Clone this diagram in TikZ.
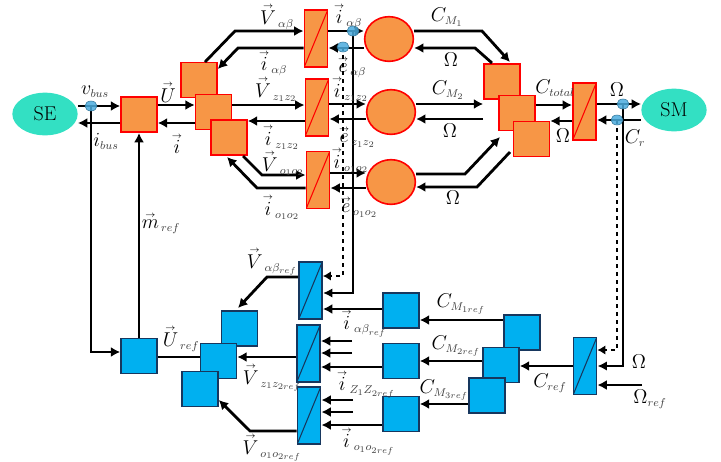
\RequirePackage{fix-cm}
\documentclass[tikz,border=0pt]{standalone}
\usepackage{amsmath}
\usepackage{amssymb}
\usepackage{tikz}
\usetikzlibrary{shapes.geometric,arrows.meta}

\DeclareMathSizes{15}{15}{8.5}{6.5}

\definecolor{orangefill}{HTML}{F79646}
\definecolor{bluefill}{HTML}{00B0F0}
\definecolor{blueline}{HTML}{17375E}
\definecolor{sourcefill}{HTML}{33E0C3}
\definecolor{tapfill}{HTML}{4BACDE}
\definecolor{subgray}{HTML}{404040}

\newcommand{\arr}[1]{\overset{\raisebox{-2.5pt}{$\scriptscriptstyle\rightarrow$}}{#1}}
\newcommand{\vlbl}[2]{$\arr{#1}_{\,\textcolor{subgray}{#2}}$}
\newcommand{\slbl}[2]{$#1_{\textcolor{subgray}{#2}}$}

\tikzset{
	boxorange/.style={draw=red,line width=1.2pt,fill=orangefill,minimum width=27pt,minimum height=26.5pt,inner sep=0pt},
	boxblue/.style={draw=blueline,line width=1.2pt,fill=bluefill,minimum width=27pt,minimum height=26.5pt,inner sep=0pt},
	convorange/.style={boxorange,minimum width=17.5pt,minimum height=42.5pt,
		path picture={\draw[red,line width=.8pt] (path picture bounding box.south west) -- (path picture bounding box.north east);}},
	convblue/.style={boxblue,minimum width=17.5pt,minimum height=42.5pt,
		path picture={\draw[blueline,line width=.8pt] (path picture bounding box.south west) -- (path picture bounding box.north east);}},
	machine/.style={ellipse,draw=red,line width=1.2pt,fill=orangefill,minimum width=36.5pt,minimum height=33.5pt,inner sep=0pt},
	source/.style={ellipse,fill=sourcefill,minimum width=49pt,minimum height=32pt,inner sep=0pt,font=\fontsize{15}{15}\selectfont},
	tapdot/.style={ellipse,draw=tapfill!70!black,line width=.4pt,fill=tapfill,fill opacity=.85,minimum width=9pt,minimum height=7.5pt,inner sep=0pt},
	conn/.style={line width=2.1pt,-{Latex[length=7pt,width=7.5pt]}},
	wire/.style={line width=2.1pt},
	lbl/.style={inner sep=0pt,font=\fontsize{15}{15}\selectfont},
}

\begin{document}
\begin{tikzpicture}[x=.75pt,y=-.75pt]
	\useasboundingbox (0,0) rectangle (721,461);
	% sources
	\node[source] (se) at (45,114) {SE};
	\node[source] (sm) at (674,110) {SM};
	% power part
	\node[boxorange] (supply) at (139,114.5) {};
	\node[boxorange] (armA) at (199,80) {};
	\node[boxorange] (armB) at (213.5,112) {};
	\node[boxorange] (armC) at (229,137.5) {};
	\node[convorange] (convA) at (316,38.5) {};
	\node[convorange] (convB) at (317,107.5) {};
	\node[convorange] (convC) at (318,180) {};
	\node[machine] (motA) at (389,39) {};
	\node[machine] (motB) at (391,112) {};
	\node[machine] (motC) at (391,182) {};
	\node[boxorange] (gearA) at (502,81.5) {};
	\node[boxorange] (gearB) at (517,113) {};
	\node[boxorange] (gearC) at (531.5,139) {};
	\node[convorange] (convM) at (584.5,111.5) {};
	% control part
	\node[boxblue] (modul) at (139,356) {};
	\node[boxblue] (refA) at (239.5,328.5) {};
	\node[boxblue] (refB) at (218.5,361) {};
	\node[boxblue] (refC) at (200,389) {};
	\node[convblue] (invA) at (310.5,290.5) {};
	\node[convblue] (invB) at (308.5,353.5) {};
	\node[convblue] (invC) at (309,415.5) {};
	\node[boxblue] (curA) at (401,310.5) {};
	\node[boxblue] (curB) at (401,361) {};
	\node[boxblue] (curC) at (401,414) {};
	\node[boxblue] (splitA) at (522,332.5) {};
	\node[boxblue] (splitB) at (501,365) {};
	\node[boxblue] (splitC) at (487,395.5) {};
	\node[convblue] (invM) at (585,366) {};
	% taps and free ends
	\coordinate (tapBus) at (91,106);
	\coordinate (tapI) at (353,31);
	\coordinate (tapE) at (343,47);
	\coordinate (tapW) at (623,104);
	\coordinate (tapC) at (617,120);
	\coordinate (speedRef) at (642,385);
	\coordinate (stubBa) at (352,341);
	\coordinate (stubBb) at (352,353);
	\coordinate (stubCa) at (353,400);
	\coordinate (stubCb) at (353,412);
	% bus side
	\draw[conn] (se.east |- 0,106) -- (supply.west |- 0,106);
	\draw[conn] (supply.west |- 0,123) -- (se.east |- 0,123);
	\draw[conn] (supply.east |- 0,105) -- (armB.west |- 0,105);
	\draw[conn] (armB.west |- 0,123) -- (supply.east |- 0,123);
	% arm to converter
	\draw[conn] (205,62) -- (235,31) -- (convA.west |- 0,31);
	\draw[conn] (convA.west |- 0,48) -- (238,48) -- (armA.east |- 0,69);
	\draw[conn] (armB.east |- 0,105) -- (convB.west |- 0,105);
	\draw[conn] (convB.west |- 0,121) -- (armC.east |- 0,121);
	\draw[conn] (243,156) -- (262,175) -- (convC.west |- 0,175);
	\draw[conn] (convC.west |- 0,188) -- (257,188) -- (227,157);
	% converter to machine
	\draw[conn] (convA.east |- 0,31) -- (motA.west |- 0,31);
	\draw[conn] (motA.west |- 0,48) -- (convA.east |- 0,48);
	\draw[conn] (convB.east |- 0,104) -- (motB.west |- 0,104);
	\draw[conn] (motB.west |- 0,119) -- (convB.east |- 0,119);
	\draw[conn] (convC.east |- 0,173) -- (motC.west |- 0,173);
	\draw[conn] (motC.west |- 0,188) -- (convC.east |- 0,188);
	% machine to gear
	\draw[conn] (motA.east |- 0,31) -- (482,31) -- (510,62);
	\draw[conn] (492,63) -- (475,48) -- (motA.east |- 0,48);
	\draw[conn] (motB.east |- 0,104) -- (gearA.west |- 0,104);
	\draw[conn] (gearA.west |- 0,119) -- (motB.east |- 0,119);
	\draw[conn] (motC.east |- 0,174) -- (465,174) -- (500,137);
	\draw[conn] (510,152) -- (477,187) -- (motC.east |- 0,187);
	% gear to load
	\draw[conn] (gearB.east |- 0,105) -- (convM.west |- 0,105);
	\draw[conn] (convM.west |- 0,121) -- (gearC.east |- 0,121);
	\draw[conn] (convM.east |- 0,104) -- (sm.west |- 0,104);
	\draw[conn] (sm.west |- 0,120) -- (convM.east |- 0,120);
	% measurements
	\draw[conn] (tapBus) |- (modul.west |- 0,352);
	\draw[conn] (modul.north) -- (supply.south);
	\draw[line width=1.5pt,-{Latex[length=7pt,width=7pt]}] (tapI) |- (invA.east |- 0,293);
	\draw[line width=.8pt,dashed,-{Latex[length=6pt,width=7pt]}] (tapE) |- (invA.east |- 0,276);
	\draw[line width=1.5pt,-{Latex[length=7pt,width=7pt]}] (tapW) |- (invM.east |- 0,366);
	\draw[line width=.8pt,dashed,-{Latex[length=6pt,width=7pt]}] (tapC) |- (invM.east |- 0,350);
	\draw[conn] (speedRef) -- (invM.east |- speedRef);
	% references
	\draw[conn] (invM.west) -- (splitB.east |- invM.west);
	\draw[conn] (splitA.west |- 0,320) -- (curA.east |- 0,320);
	\draw[conn] (splitB.west |- 0,361) -- (curB.east |- 0,361);
	\draw[conn] (splitC.west |- 0,404) -- (curC.east |- 0,404);
	\draw[conn] (curA.west |- 0,309) -- (invA.east |- 0,309);
	\draw[conn] (curB.west |- 0,367) -- (invB.east |- 0,367);
	\draw[conn] (curC.west |- 0,425) -- (invC.east |- 0,425);
	\draw[conn] (stubBa) -- (invB.east |- stubBa);
	\draw[conn] (stubBb) -- (invB.east |- stubBb);
	\draw[conn] (stubCa) -- (invC.east |- stubCa);
	\draw[conn] (stubCb) -- (invC.east |- stubCb);
	\draw[conn] (invA.west |- 0,277) -- (267,277) -- (238,308);
	\draw[conn] (invB.west |- 0,357) -- (refB.east |- 0,357);
	\draw[conn] (invC.west |- 0,431) -- (250,431) -- (refC.east |- 0,400);
	\draw[wire] (refB.west |- 0,357) -- (modul.east |- 0,357);
	% tap marks
	\foreach \tapname in {tapBus,tapI,tapE,tapW,tapC}{
		\node[tapdot] (\tapname dot) at (\tapname) {};
	};
	% labels of the power part
	\node[lbl] (lVa) at (277,16) {\vlbl{V}{\alpha\beta}};
	\node[lbl] (lIa) at (273,63) {\vlbl{i}{\alpha\beta}};
	\node[lbl] (lVb) at (276,89) {\vlbl{V}{z_1z_2}};
	\node[lbl] (lIb) at (281,137) {\vlbl{i}{z_1z_2}};
	\node[lbl] (lVc) at (283,163) {\vlbl{V}{o_1o_2}};
	\node[lbl] (lIc) at (281,207) {\vlbl{i}{o_1o_2}};
	\node[lbl] (rIa) at (348,16) {\vlbl{i}{\alpha\beta}};
	\node[lbl] (rEa) at (352,67) {\vlbl{e}{\alpha\beta}};
	\node[lbl] (rIb) at (350,89) {\vlbl{i}{z_1z_2}};
	\node[lbl] (rEb) at (357,137) {\vlbl{e}{z_1z_2}};
	\node[lbl] (rIc) at (350,160) {\vlbl{i}{o_1o_2}};
	\node[lbl] (rEc) at (359,207) {\vlbl{e}{o_1o_2}};
	\node[lbl] (lVbus) at (95,92) {\slbl{v}{bus}};
	\node[lbl] (lIbus) at (106,141) {\slbl{i}{bus}};
	\node[lbl] (lU) at (168,92) {$\arr{U}$};
	\node[lbl] (lI) at (177,143) {$\arr{i}$};
	\node[lbl] (lMref) at (161,223) {\vlbl{m}{ref}};
	\node[lbl] (lCa) at (447,17) {\slbl{C}{M_1}};
	\node[lbl] (lCb) at (448,90) {\slbl{C}{M_2}};
	\node[lbl] (lOa) at (451,60) {$\Omega$};
	\node[lbl] (lOb) at (450,131) {$\Omega$};
	\node[lbl] (lOc) at (453,198) {$\Omega$};
	\node[lbl] (lCt) at (555,88) {\slbl{C}{total}};
	\node[lbl] (lOm) at (563,136) {$\Omega$};
	\node[lbl] (lOs) at (617,90) {$\Omega$};
	\node[lbl] (lCr) at (635,138) {\slbl{C}{r}};
	% labels of the control part
	\node[lbl] (lVaref) at (272,261) {\vlbl{V}{\alpha\beta_{ref}}};
	\node[lbl] (lVbref) at (272,377) {\vlbl{V}{z_1z_{2ref}}};
	\node[lbl] (lVcref) at (272,447) {\vlbl{V}{o_1o_{2ref}}};
	\node[lbl] (lUref) at (181,338) {\vlbl{U}{ref}};
	\node[lbl] (lIaref) at (364,323) {\vlbl{i}{\alpha\beta_{ref}}};
	\node[lbl] (lIbref) at (366,384) {\vlbl{i}{Z_1Z_{2ref}}};
	\node[lbl] (lIcref) at (368,441) {\vlbl{i}{o_1o_{2ref}}};
	\node[lbl] (lCaref) at (461,304) {\slbl{C}{M_{1ref}}};
	\node[lbl] (lCbref) at (456,346) {\slbl{C}{M_{2ref}}};
	\node[lbl] (lCcref) at (444,390) {\slbl{C}{M_{3ref}}};
	\node[lbl] (lCref) at (550,383) {\slbl{C}{ref}};
	\node[lbl] (lOin) at (639,362) {$\Omega$};
	\node[lbl] (lOref) at (650,399) {\slbl{\Omega}{ref}};
\end{tikzpicture}
\end{document}
